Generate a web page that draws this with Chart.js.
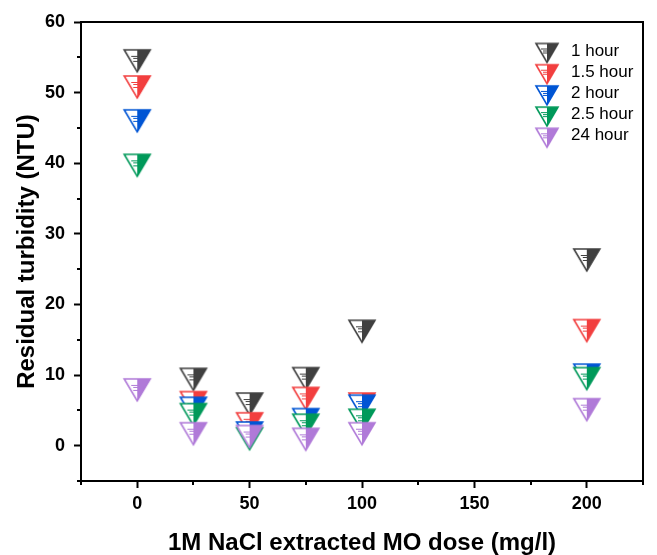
<!DOCTYPE html>
<html>
<head>
<meta charset="utf-8">
<script src="https://cdn.jsdelivr.net/npm/chart.js@4.4.0/dist/chart.umd.min.js"></script>
<style>
  html, body { margin: 0; padding: 0; background: #fff; }
</style>
</head>
<body>
<canvas id="my-chart" width="657" height="555"></canvas>
<script>
'use strict';

let doses = [0, 25, 50, 75, 100, 200];
let seriesNames = ['1 hour', '1.5 hour', '2 hour', '2.5 hour', '24 hour'];
let turbidity1h = [54.5, 9.4, 5.9, 9.5, 16.2, 26.3];
let turbidity15h = [50.8, 6.1, 3.1, 6.7, 5.9, 16.3];
let turbidity2h = [46.0, 5.3, 1.8, 3.7, 5.6, 10.0];
let turbidity25h = [39.7, 4.4, 1.0, 2.9, 3.6, 9.5];
let turbidity24h = [7.9, 1.7, 1.3, 0.9, 1.7, 5.1];
let seriesValues = [turbidity1h, turbidity15h, turbidity2h, turbidity25h, turbidity24h];
let seriesColors = ['#404040', '#f23f3f', '#0055d4', '#00995a', '#b07ad8'];

let xTicks = [0, 50, 100, 150, 200];
let xMinorTicks = [-25, 25, 75, 125, 175, 225];
let yTicks = [0, 10, 20, 30, 40, 50, 60];
let yMinorTicks = [-5, 5, 15, 25, 35, 45, 55];

Chart.defaults.font.family = '"Liberation Sans", Arial, sans-serif';
Chart.defaults.color = '#000';

// down triangle, right half filled, little ruler marks on the left half
function makeMarker(color, w, h) {
  let pad = 3;
  let c = document.createElement('canvas');
  c.width = w + pad * 2;
  c.height = h + pad * 2;
  let ctx = c.getContext('2d');
  let x0 = pad, y0 = pad, cx = pad + w / 2;

  ctx.beginPath();
  ctx.moveTo(x0, y0); ctx.lineTo(x0 + w, y0); ctx.lineTo(cx, y0 + h); ctx.closePath();
  ctx.fillStyle = '#fff';
  ctx.fill();

  ctx.beginPath();
  ctx.moveTo(cx, y0); ctx.lineTo(x0 + w, y0); ctx.lineTo(cx, y0 + h); ctx.closePath();
  ctx.fillStyle = color;
  ctx.fill();

  ctx.strokeStyle = color;
  ctx.lineWidth = 1;
  let marks = [[0.25, 6], [0.37, 4], [0.49, 4]];
  for (let i = 0; i < marks.length; i++) {
    let yy = Math.round(y0 + h * marks[i][0]) + 0.5;
    ctx.beginPath();
    ctx.moveTo(cx - marks[i][1], yy);
    ctx.lineTo(cx, yy);
    ctx.stroke();
  }

  ctx.beginPath();
  ctx.moveTo(x0, y0); ctx.lineTo(x0 + w, y0); ctx.lineTo(cx, y0 + h); ctx.closePath();
  ctx.lineWidth = 1.6;
  ctx.stroke();
  return c;
}

let pointMarkers = seriesColors.map(col => makeMarker(col, 26, 22));
let legendMarkers = seriesColors.map(col => makeMarker(col, 22, 19));

let framePlugin = {
  id: 'frame',
  afterDraw(chart) {
    let ctx = chart.ctx;
    let a = chart.chartArea;
    let xs = chart.scales.x;
    let ys = chart.scales.y;
    ctx.save();
    ctx.strokeStyle = '#000';
    ctx.lineWidth = 2;
    ctx.beginPath();
    ctx.moveTo(a.left, a.top);
    ctx.lineTo(a.right, a.top);
    ctx.lineTo(a.right, a.bottom);
    ctx.stroke();

    // minor ticks
    ctx.beginPath();
    for (let i = 0; i < xMinorTicks.length; i++) {
      let px = Math.round(xs.getPixelForValue(xMinorTicks[i]));
      ctx.moveTo(px, a.bottom);
      ctx.lineTo(px, a.bottom + 4);
    }
    for (let i = 0; i < yMinorTicks.length; i++) {
      let py = Math.round(ys.getPixelForValue(yMinorTicks[i]));
      ctx.moveTo(a.left, py);
      ctx.lineTo(a.left - 4, py);
    }
    ctx.stroke();

    // legend inside the plot
    ctx.font = '17px "Liberation Sans", Arial, sans-serif';
    ctx.fillStyle = '#000';
    ctx.textBaseline = 'middle';
    ctx.textAlign = 'left';
    for (let i = 0; i < seriesNames.length; i++) {
      let ly = 51 + 21.2 * i;
      let m = legendMarkers[i];
      ctx.drawImage(m, 547 - m.width / 2, ly + 2 - m.height / 2);
      ctx.fillText(seriesNames[i], 571, ly);
    }
    ctx.restore();
  }
};

let datasets = [];
for (let i = 0; i < seriesNames.length; i++) {
  datasets.push({
    label: seriesNames[i],
    data: doses.map((d, j) => ({ x: d, y: seriesValues[i][j] })),
    pointStyle: pointMarkers[i],
    pointRadius: 13,
    pointHoverRadius: 13,
    borderColor: seriesColors[i],
    backgroundColor: seriesColors[i],
    showLine: false,
    order: seriesNames.length - i
  });
}

let tickFont = { size: 18, weight: 'bold' };
let titleFont = { size: 24, weight: 'bold', lineHeight: 1 };

let chartObj = {
  type: 'scatter',
  data: { datasets: datasets },
  options: {
    responsive: false,
    animation: false,
    layout: { padding: { top: 22, right: 6, left: 0, bottom: 0 } },
    plugins: {
      legend: { display: false },
      tooltip: { enabled: false }
    },
    scales: {
      x: {
        type: 'linear',
        min: -25,
        max: 225,
        afterBuildTicks: s => { s.ticks = xTicks.map(v => ({ value: v })); },
        afterFit: s => { s.height = 74; },
        grid: { display: true, drawOnChartArea: false, drawTicks: true, tickLength: 7, tickWidth: 2, tickColor: '#000' },
        border: { display: true, color: '#000', width: 2 },
        ticks: { color: '#000', font: tickFont, padding: 5, maxRotation: 0, autoSkip: false },
        title: { display: true, text: '1M NaCl extracted MO dose (mg/l)', color: '#000', font: titleFont, padding: { top: 0, bottom: 0 } }
      },
      y: {
        type: 'linear',
        min: -5,
        max: 60,
        afterBuildTicks: s => { s.ticks = yTicks.map(v => ({ value: v })); },
        afterFit: s => { s.width = 81; },
        grid: { display: true, drawOnChartArea: false, drawTicks: true, tickLength: 7, tickWidth: 2, tickColor: '#000' },
        border: { display: true, color: '#000', width: 2 },
        ticks: { color: '#000', font: tickFont, padding: 9, autoSkip: false },
        title: { display: true, text: 'Residual turbidity (NTU)', color: '#000', font: titleFont, padding: { top: 15, bottom: 0 } }
      }
    }
  },
  plugins: [framePlugin]
};

new Chart(document.getElementById('my-chart'), chartObj);
</script>
</body>
</html>
